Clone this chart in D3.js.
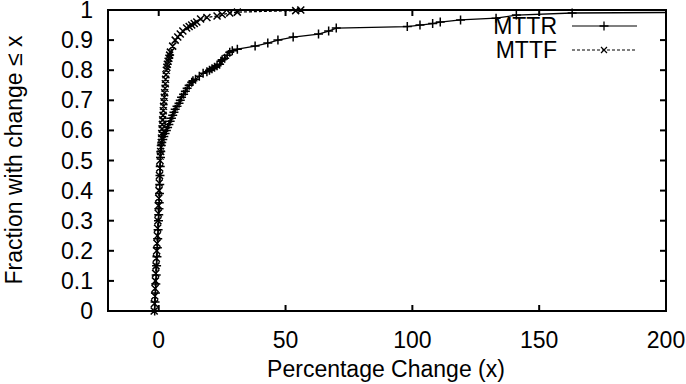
<!DOCTYPE html>
<html>
<head>
<meta charset="utf-8">
<script src="https://cdn.jsdelivr.net/npm/d3@7"></script>
<style>
  body { margin: 0; background: #fff; }
  svg text { font-family: "Liberation Sans", Arial, sans-serif; font-size: 23px; fill: #000; }
</style>
</head>
<body>
<svg id="chart" width="686" height="384"></svg>
<script>
// CDF of percentage change
let mttrX = [-1.6, -1.45, -1.3, -1.15, -1.0, -0.85, -0.7, -0.55, -0.4, -0.25, -0.1, 0.0, 0.1, 0.2, 0.3, 0.4, 0.5, 0.6, 0.7, 0.8, 1.0, 1.2, 1.6, 2.0, 2.5, 3.0, 3.5, 4.0, 4.5, 5.0, 5.5, 6.0, 6.5, 7.2, 8.0, 8.5, 9.0, 9.8, 10.5, 11.2, 12.0, 13.0, 13.5, 14.5, 16.0, 17.5, 19.0, 20.0, 21.0, 22.0, 23.0, 24.0, 24.5, 25.0, 26.0, 27.0, 28.0, 29.0, 31.0, 38.0, 43.0, 47.0, 53.0, 63.0, 67.0, 70.0, 98.0, 103.0, 108.0, 111.0, 119.0, 133.0, 141.0, 163.0, 230.0];
let mttrY = [0.0, 0.03, 0.06, 0.09, 0.12, 0.15, 0.18, 0.21, 0.24, 0.27, 0.30, 0.32, 0.34, 0.36, 0.39, 0.42, 0.45, 0.48, 0.51, 0.53, 0.55, 0.56, 0.57, 0.58, 0.59, 0.60, 0.61, 0.62, 0.63, 0.64, 0.65, 0.66, 0.67, 0.68, 0.69, 0.70, 0.71, 0.72, 0.73, 0.74, 0.75, 0.76, 0.765, 0.77, 0.78, 0.79, 0.795, 0.80, 0.805, 0.81, 0.815, 0.82, 0.83, 0.835, 0.84, 0.85, 0.86, 0.865, 0.87, 0.88, 0.89, 0.90, 0.91, 0.92, 0.93, 0.94, 0.945, 0.95, 0.955, 0.96, 0.967, 0.973, 0.983, 0.99, 0.993, 1.0];

let mttfX = [-1.8, -1.7, -1.55, -1.45, -1.3, -1.2, -1.05, -0.95, -0.8, -0.7, -0.55, -0.45, -0.3, -0.2, -0.1, 0.0, 0.1, 0.2, 0.3, 0.4, 0.5, 0.6, 0.75, 0.9, 1.0, 1.1, 1.2, 1.3, 1.45, 1.55, 1.7, 1.8, 1.9, 2.05, 2.2, 2.35, 2.5, 2.6, 2.7, 2.85, 3.0, 3.2, 3.4, 3.7, 4.0, 4.3, 4.6, 5.5, 6.5, 7.5, 8.5, 9.5, 11.0, 12.0, 13.0, 14.0, 15.0, 16.5, 19.0, 23.0, 25.0, 28.0, 31.0, 54.0, 56.0];
let mttfY = [0.0, 0.025, 0.05, 0.075, 0.10, 0.125, 0.15, 0.175, 0.20, 0.225, 0.25, 0.275, 0.30, 0.325, 0.35, 0.375, 0.40, 0.425, 0.45, 0.475, 0.50, 0.515, 0.53, 0.545, 0.56, 0.575, 0.59, 0.605, 0.62, 0.635, 0.65, 0.665, 0.68, 0.695, 0.71, 0.725, 0.74, 0.755, 0.77, 0.785, 0.80, 0.81, 0.82, 0.83, 0.84, 0.85, 0.86, 0.88, 0.90, 0.91, 0.92, 0.93, 0.94, 0.945, 0.95, 0.955, 0.96, 0.97, 0.975, 0.98, 0.985, 0.99, 0.993, 0.998, 1.0];

let xTicks = [0, 50, 100, 150, 200];
let yTicks = [0, 0.1, 0.2, 0.3, 0.4, 0.5, 0.6, 0.7, 0.8, 0.9, 1];

let svg = d3.select("#chart");
let plotLeft = 108, plotRight = 666, plotTop = 10, plotBottom = 311;

let x = d3.scaleLinear().domain([-20, 200]).range([plotLeft, plotRight]);
let y = d3.scaleLinear().domain([0, 1]).range([plotBottom, plotTop]);

svg.append("defs").append("clipPath").attr("id", "plotClip")
  .append("rect")
  .attr("x", plotLeft).attr("y", plotTop - 5)
  .attr("width", plotRight - plotLeft).attr("height", plotBottom - plotTop + 10);

// ticks on all four sides, pointing inward
let tickLen = 6;
let ticks = svg.append("g").attr("stroke", "#000").attr("stroke-width", 2);
xTicks.forEach(function(t) {
  ticks.append("line").attr("x1", x(t)).attr("x2", x(t)).attr("y1", plotBottom).attr("y2", plotBottom - tickLen);
  ticks.append("line").attr("x1", x(t)).attr("x2", x(t)).attr("y1", plotTop).attr("y2", plotTop + tickLen);
});
yTicks.forEach(function(t) {
  ticks.append("line").attr("x1", plotLeft).attr("x2", plotLeft + tickLen).attr("y1", y(t)).attr("y2", y(t));
  ticks.append("line").attr("x1", plotRight).attr("x2", plotRight - tickLen).attr("y1", y(t)).attr("y2", y(t));
});

svg.append("g").selectAll("text").data(xTicks).enter().append("text")
  .attr("x", d => x(d)).attr("y", 348)
  .attr("text-anchor", "middle")
  .text(d => d);

svg.append("g").selectAll("text").data(yTicks).enter().append("text")
  .attr("x", 93).attr("y", d => y(d) + 8)
  .attr("text-anchor", "end")
  .text(d => d);

svg.append("text")
  .attr("x", 386).attr("y", 377)
  .attr("text-anchor", "middle")
  .text("Percentage Change (x)");

svg.append("text")
  .attr("transform", "translate(22,160) rotate(-90)")
  .attr("text-anchor", "middle")
  .text("Fraction with change \u2264 x");

let line = d3.line().x(d => x(d[0])).y(d => y(d[1]));
let plot = svg.append("g").attr("clip-path", "url(#plotClip)");

function plusPath(cx, cy, s) {
  return "M" + (cx - s) + "," + cy + "H" + (cx + s) + "M" + cx + "," + (cy - s) + "V" + (cy + s);
}
function crossPath(cx, cy, s) {
  return "M" + (cx - s) + "," + (cy - s) + "L" + (cx + s) + "," + (cy + s) +
         "M" + (cx - s) + "," + (cy + s) + "L" + (cx + s) + "," + (cy - s);
}

let mttr = d3.zip(mttrX, mttrY);
let mttf = d3.zip(mttfX, mttfY);

plot.append("path").attr("d", line(mttr))
  .attr("fill", "none").attr("stroke", "#000").attr("stroke-width", 1.3);
plot.append("path")
  .attr("d", mttr.map(d => plusPath(x(d[0]), y(d[1]), 4.5)).join(""))
  .attr("stroke", "#000").attr("stroke-width", 1.5);

plot.append("path").attr("d", line(mttf))
  .attr("fill", "none").attr("stroke", "#000").attr("stroke-width", 1.3)
  .attr("stroke-dasharray", "3,2");
plot.append("path")
  .attr("d", mttf.map(d => crossPath(x(d[0]), y(d[1]), 3.5)).join(""))
  .attr("stroke", "#000").attr("stroke-width", 1.5);

// legend
let legend = svg.append("g");
legend.append("text").attr("x", 557).attr("y", 34).attr("text-anchor", "end").text("MTTR");
legend.append("text").attr("x", 557).attr("y", 58).attr("text-anchor", "end").text("MTTF");
legend.append("line").attr("x1", 572).attr("x2", 637).attr("y1", 26).attr("y2", 26)
  .attr("stroke", "#000").attr("stroke-width", 1.2);
legend.append("path").attr("d", plusPath(604, 26, 4.5)).attr("stroke", "#000").attr("stroke-width", 1.3);
legend.append("line").attr("x1", 572).attr("x2", 637).attr("y1", 50).attr("y2", 50)
  .attr("stroke", "#000").attr("stroke-width", 1.2).attr("stroke-dasharray", "3,2");
legend.append("path").attr("d", crossPath(604, 50, 3)).attr("stroke", "#000").attr("stroke-width", 1.2);

// border
svg.append("rect")
  .attr("x", plotLeft).attr("y", plotTop)
  .attr("width", plotRight - plotLeft).attr("height", plotBottom - plotTop)
  .attr("fill", "none").attr("stroke", "#000").attr("stroke-width", 2);
</script>
</body>
</html>
